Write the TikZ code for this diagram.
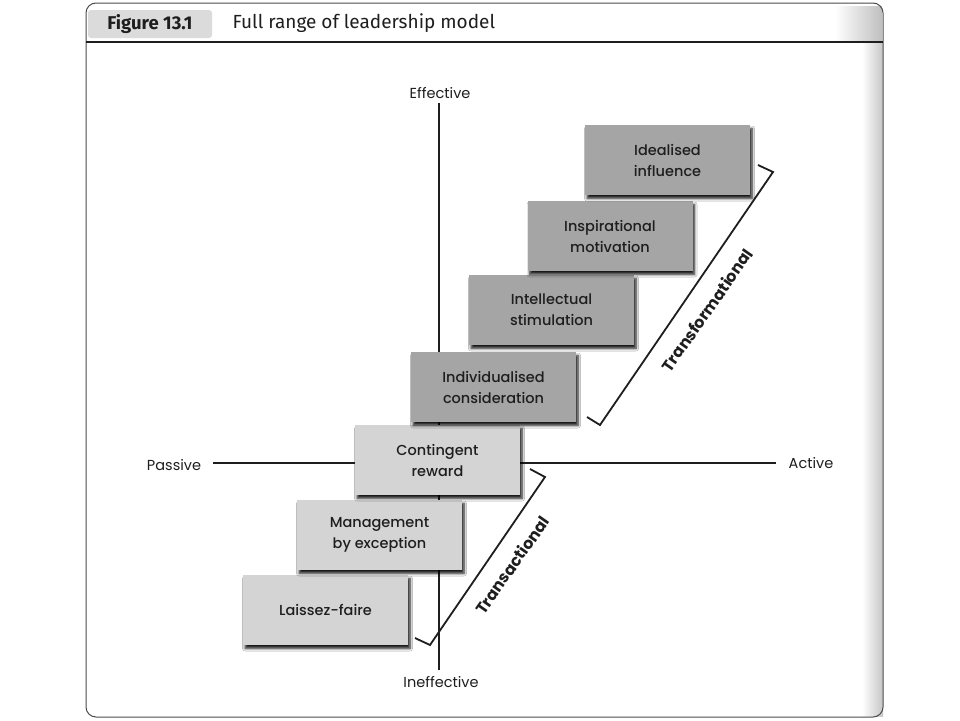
\documentclass[tikz,border=0pt]{standalone}
\usepackage{fontspec}
\setmainfont{Poppins}
\newfontfamily\boxfont{Poppins}[UprightFont={* Medium}]
\newfontfamily\headfont{Fira Sans}
\usetikzlibrary{shadows.blur}
\definecolor{lightbox}{HTML}{D4D4D4}
\definecolor{darkbox}{HTML}{A5A5A5}
\definecolor{ink}{HTML}{1E1E1E}
\begin{document}
\begin{tikzpicture}[x=1pt,y=-1pt,
  stepbox/.style={minimum width=165pt, minimum height=70pt, inner sep=0pt, align=center, text=ink,
    font=\boxfont\fontsize{14.5}{21}\selectfont,
    blur shadow={shadow xshift=2pt, shadow yshift=-3.5pt, shadow blur steps=6, shadow blur radius=2.5pt, shadow opacity=90}},
  lightstep/.style={stepbox, fill=lightbox},
  darkstep/.style={stepbox, fill=darkbox},
  axis/.style={line width=2.5pt, draw=ink},
  axislabel/.style={text=ink, font=\fontsize{14.5}{16}\selectfont},
  bracket/.style={line width=1.8pt, draw=ink, line join=miter},
  brlabel/.style={font=\bfseries\fontsize{16}{18}\selectfont, text=ink, rotate=55}]
\useasboundingbox (0,0) rectangle (960,720);
\fill[white] (0,0) rectangle (960,720);
% scan shading at right edge
\shade[left color=white, right color=gray!45] (862,42) rectangle (883,716);
\shade[left color=white, right color=gray!50] (835,6) rectangle (882,40);
% frame and header
\draw[draw=gray!60!black, line width=1pt, rounded corners=10pt] (86,3) rectangle (883,717);
\draw[line width=1.6pt, ink] (86,42) -- (883,42);
\node (figlabel) [fill=gray!28, rounded corners=3pt, minimum width=124pt, minimum height=28pt, text=ink,
  font=\headfont\bfseries\fontsize{18.5}{20}\selectfont] at (150,24) {Figure 13.1};
\node (title) [anchor=west, text=ink, font=\headfont\fontsize{19}{21}\selectfont] at (229,23) {Full range of leadership model};
% axes
\coordinate (ytop) at (439,103);
\coordinate (ybot) at (439,670);
\coordinate (xleft) at (213,463);
\coordinate (xright) at (776,463);
\draw[axis] (ytop) -- (ybot);
\draw[axis] (xleft) -- (xright);
\node (eff) [axislabel] at (440,93) {Effective};
\node (ineff) [axislabel] at (441,682) {Ineffective};
\node (pass) [axislabel] at (174,465) {Passive};
\node (act) [axislabel] at (811,463) {Active};
% steps
\node (lf)  [lightstep] at (325.5,610) {Laissez-faire};
\node (mbe) [lightstep] at (379.5,535) {Management\\by exception};
\node (cr)  [lightstep] at (437.5,460) {Contingent\\reward};
\node (ic)  [darkstep] at (493.5,387) {Individualised\\consideration};
\node (is)  [darkstep] at (551.5,310) {Intellectual\\stimulation};
\node (im)  [darkstep] at (610,236) {Inspirational\\motivation};
\node (ii)  [darkstep] at (667.5,160) {Idealised\\influence};
% brackets
\coordinate (tfa) at (587,417);
\coordinate (tfb) at (600,425);
\coordinate (tfc) at (773,172);
\coordinate (tfd) at (758,165);
\draw[bracket] (tfa) -- (tfb) -- (tfc) -- (tfd);
\coordinate (taa) at (415,638);
\coordinate (tab) at (430,645);
\coordinate (tac) at (545,477);
\coordinate (tad) at (530,469);
\draw[bracket] (taa) -- (tab) -- (tac) -- (tad);
\node (tflabel) [brlabel] at (707,310) {Transformational};
\node (talabel) [brlabel] at (512,565) {Transactional};
\end{tikzpicture}
\end{document}
